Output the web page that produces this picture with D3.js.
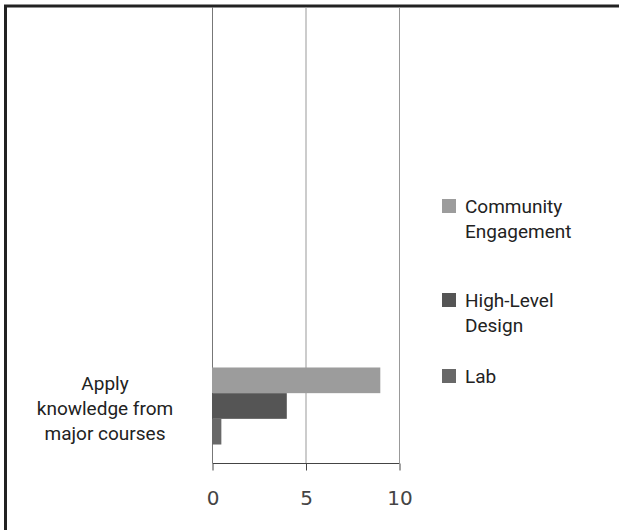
<!DOCTYPE html>
<html>
<head>
<meta charset="utf-8">
<script src="https://cdn.jsdelivr.net/npm/d3@7"></script>
<style>
  body { margin: 0; background: #fff; }
  svg text { font-family: "Liberation Sans Narrow", "Arial Narrow", Roboto, sans-serif; }
</style>
</head>
<body>
<script>
// chart data
const categories = ["Apply knowledge from major courses"];
const categoryLines = [["Apply", "knowledge from", "major courses"]];
const seriesNames = ["Community Engagement", "High-Level Design", "Lab"];
const legendLines = [["Community", "Engagement"], ["High-Level", "Design"], ["Lab"]];
const communityValues = [9];
const highLevelValues = [4];
const labValues = [0.5];
const xTicks = [0, 5, 10];
const seriesColors = ["#9c9c9c", "#555555", "#686868"];

const w = 619;
const h = 530;

const svg = d3.select("body")
              .append("svg")
              .attr("width", w)
              .attr("height", h);

// frame (top + left edges only, the rest is cropped)
svg.append("path")
   .attr("d", "M5.5,530 L5.5,6 L619,6")
   .attr("fill", "none")
   .attr("stroke", "#222")
   .attr("stroke-width", 3);

const plotTop = 7;
const plotBottom = 463;

const xScale = d3.scaleLinear()
                 .domain([0, 10])
                 .range([212, 399]);

const yScale = d3.scaleBand()
                 .domain(categories)
                 .range([349, plotBottom])
                 .paddingOuter(0.24)
                 .paddingInner(0);

const ySub = d3.scaleBand()
               .domain(seriesNames)
               .range([0, yScale.bandwidth()]);

// vertical gridlines
svg.append("g")
   .selectAll("line")
   .data(xTicks)
   .enter()
   .append("line")
   .attr("x1", (d) => xScale(d) + 0.5)
   .attr("x2", (d) => xScale(d) + 0.5)
   .attr("y1", plotTop)
   .attr("y2", plotBottom)
   .attr("stroke", (d) => d === 0 ? "#777" : "#999")
   .attr("stroke-width", 1);

// bars
const rows = categories.map((c, i) => ({
  category: c,
  values: [communityValues[i], highLevelValues[i], labValues[i]]
}));

rows.forEach((row) => {
  svg.append("g")
     .selectAll("rect")
     .data(row.values)
     .enter()
     .append("rect")
     .attr("x", xScale(0))
     .attr("y", (d, i) => yScale(row.category) + ySub(seriesNames[i]))
     .attr("width", (d) => xScale(d) - xScale(0))
     .attr("height", ySub.bandwidth())
     .attr("fill", (d, i) => seriesColors[i]);
});

// x axis
const xAxis = d3.axisBottom(xScale)
                .tickValues(xTicks)
                .tickSize(7)
                .tickPadding(20);

const axisG = svg.append("g")
                 .attr("transform", "translate(0.5, " + (plotBottom + 0.5) + ")")
                 .call(xAxis);
axisG.select(".domain").attr("stroke", "#444").attr("d", "M" + (xScale(0)) + ",0H" + xScale(10));
axisG.selectAll(".tick line").attr("stroke", "#444");
axisG.selectAll(".tick text")
     .attr("fill", "#444")
     .style("font-family", "'DejaVu Sans', sans-serif")
     .style("font-size", "20px");

// category labels
const labelX = 105;
categories.forEach((c, i) => {
  const lines = categoryLines[i];
  const cy = yScale(c) + yScale.bandwidth() / 2;
  const lh = 25;
  svg.append("text")
     .attr("x", labelX)
     .attr("y", cy - (lines.length - 1) * lh / 2 + 9)
     .attr("text-anchor", "middle")
     .attr("fill", "#222")
     .style("font-size", "19px")
     .selectAll("tspan")
     .data(lines)
     .enter()
     .append("tspan")
     .attr("x", labelX)
     .attr("dy", (d, j) => j === 0 ? 0 : lh)
     .text((d) => d);
});

// legend
const legendTops = [199, 293, 369];
const legend = svg.append("g");
seriesNames.forEach((s, i) => {
  legend.append("rect")
        .attr("x", 442)
        .attr("y", legendTops[i])
        .attr("width", 14)
        .attr("height", 14)
        .attr("fill", seriesColors[i]);
  legend.append("text")
        .attr("x", 465)
        .attr("y", legendTops[i] + 14)
        .attr("fill", "#222")
        .style("font-size", "19px")
        .selectAll("tspan")
        .data(legendLines[i])
        .enter()
        .append("tspan")
        .attr("x", 465)
        .attr("dy", (d, j) => j === 0 ? 0 : 25)
        .text((d) => d);
});
</script>
</body>
</html>
